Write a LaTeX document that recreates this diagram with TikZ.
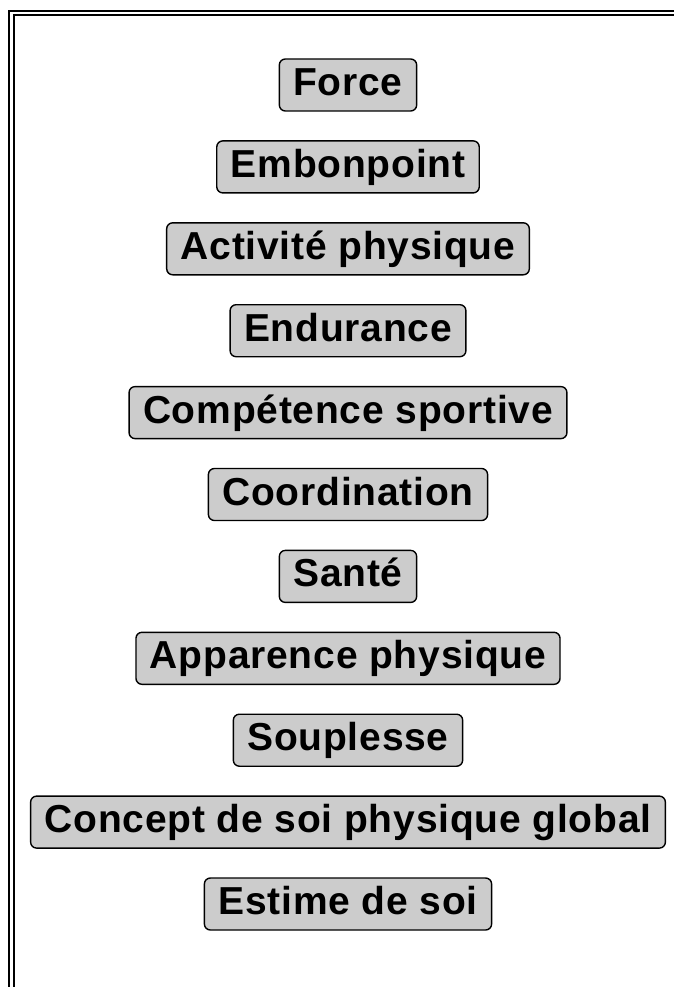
\documentclass[tikz,border=0pt]{standalone}
\usepackage{fontspec}
\setmainfont{Liberation Sans}
\newfontfamily\blocfont{Liberation Sans}[LetterSpace=2]
\usepackage{xcolor}
\usepackage{tikz}
\usetikzlibrary{positioning}

\begin{document}
\begin{tikzpicture}[x=1pt,y=1pt,node distance=28.5pt,
			bloc/.style={draw=black,line width=1.4pt,rounded corners=6pt,
				fill=black!20,inner xsep=14pt,inner ysep=8pt,minimum height=52pt,
				text height=28pt,text depth=7pt,
				font=\blocfont\bfseries\fontsize{39}{42}\selectfont},
			cadre/.style={line width=2pt}]
			\useasboundingbox (0,0) rectangle (674,-987);
			
			% double frame
			\begin{scope}
				\clip (0,0) rectangle (674,-987);
				\draw[cadre] (9,-11) rectangle (720,-1020);
				\draw[cadre] (13.5,-15.5) rectangle (720,-1020);
			\end{scope}
			
%			\node (force) at (348,-85) {Force};
			\node (force) [bloc] at (348,-85) {Force};
			\node (embonpoint) [bloc, below=of force] {Embonpoint};
			\node (activite) [bloc, below=of embonpoint] {Activité physique};
			\node (endurance) [bloc, below=of activite] {Endurance};
			\node (competence) [bloc, below=of endurance] {Compétence sportive};
			\node (coordination) [bloc, below=of competence] {Coordination};
			\node (sante) [bloc, below=of coordination] {Santé};
			\node (apparence) [bloc, below=of sante] {Apparence physique};
			\node (souplesse) [bloc, below=of apparence] {Souplesse};
			\node (concept) [bloc, below=of souplesse] {Concept de soi physique global};
			\node (estime) [bloc, below=of concept] {Estime de soi};
		\end{tikzpicture}
\end{document}
